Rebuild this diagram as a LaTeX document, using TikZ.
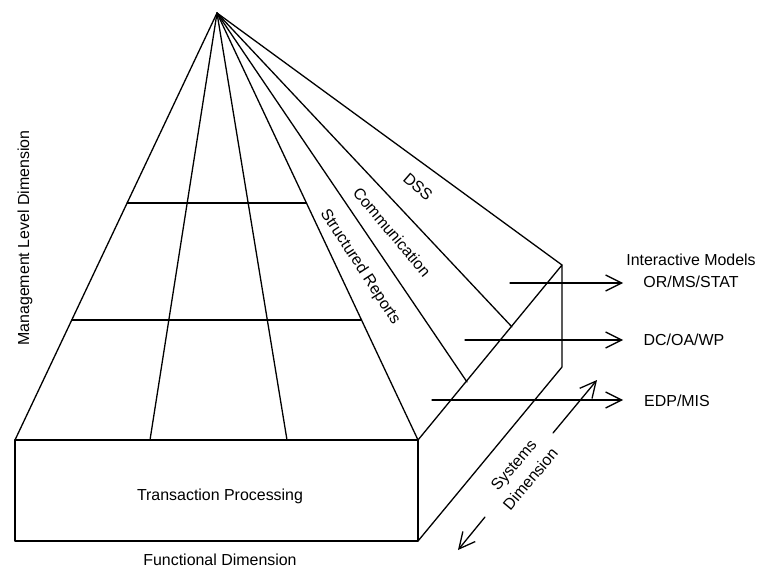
\documentclass[tikz,border=0pt]{standalone}
\usepackage{fontspec}
\setmainfont{Liberation Sans}
\usetikzlibrary{arrows.meta,calc}

\begin{document}
\begin{tikzpicture}[x=1bp,y=-1bp,line width=1.3bp,line join=round,line cap=round,
  lbl/.style={font=\fontsize{16}{22}\selectfont,inner sep=0pt,align=center},
  flow/.style={-{Straight Barb[length=16bp,width=16bp]}}]
\useasboundingbox (0,0) rectangle (759,569);

% pyramid apex and base corners
\coordinate (apex) at (217,13);
\coordinate (bl) at (15,440);
\coordinate (b1) at (150,440);
\coordinate (b2) at (287,440);
\coordinate (br) at (418,440);
% side face edge points
\coordinate (s1) at (467,382);
\coordinate (s2) at (512,327);
\coordinate (st) at (562,265);
\coordinate (sm) at (562,367);
% box lower corners
\coordinate (fl) at (15,541);
\coordinate (fr) at (418,541);

% rays from the apex
\foreach \p in {bl,b1,b2,br,s1,s2,st}
  \draw (apex) -- (\p);

% management level grid lines
\draw ($(apex)!0.445!(bl)$) -- ($(apex)!0.445!(br)$);
\draw ($(apex)!0.719!(bl)$) -- ($(apex)!0.719!(br)$);

% front box and side slab
\draw (bl) -- (br) -- (fr) -- (fl) -- cycle;
\draw (br) -- (st) -- (sm) -- (fr);

% output arrows
\coordinate (a1) at (510,283);
\coordinate (a2) at (465,340);
\coordinate (a3) at (432,400);
\coordinate (e1) at (623,283);
\coordinate (e2) at (623,340);
\coordinate (e3) at (623,400);
\draw[flow] (a1) -- (e1);
\draw[flow] (a2) -- (e2);
\draw[flow] (a3) -- (e3);

% systems dimension arrows
\coordinate (u0) at (553,433);
\coordinate (u1) at (597,380);
\coordinate (d0) at (485,517);
\coordinate (d1) at (458,550);
\draw[flow] (u0) -- (u1);
\draw[flow] (d0) -- (d1);

% labels
\node[lbl] (tp) at (220,496) {Transaction Processing};
\node[lbl] (fd) at (220,560) {Functional Dimension};
\node[lbl,rotate=90] (md) at (25,238) {Management Level Dimension};
\node[lbl,rotate=-41] (dss) at (418,187) {DSS};
\node[lbl,rotate=-50] (com) at (392,232) {Communication};
\node[lbl,rotate=-57] (sr) at (360,267) {Structured Reports};
\node[lbl] (im) at (691,260) {Interactive Models};
\node[lbl] (or) at (691,282) {OR/MS/STAT};
\node[lbl] (dc) at (684,340) {DC/OA/WP};
\node[lbl] (edp) at (677,401) {EDP/MIS};
\node[lbl,rotate=50] (sd) at (522,472) {Systems\\Dimension};
\end{tikzpicture}
\end{document}
